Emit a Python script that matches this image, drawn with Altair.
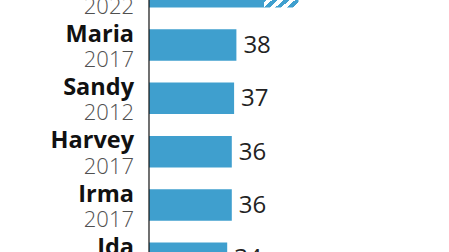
import altair as alt
import pandas as pd

names = ["Ian", "Maria", "Sandy", "Harvey", "Irma", "Ida"]
years = ["2022", "2017", "2012", "2017", "2017", "2021"]
low = [50, 38, 37, 36, 36, 34]
high = [65, 38, 37, 36, 36, 34]
labels = ["50-65", "38", "37", "36", "36", "34"]

df = pd.DataFrame({"name": names, "year": years, "low": low, "high": high, "label": labels})

BLUE = "#3f9fce"
FONT = "Open Sans"

yscale = alt.Scale(domain=names, range=[-35, 285], paddingInner=0.41, paddingOuter=0.205)
xscale = alt.Scale(domain=[0, 130], range=[149, 448])

Y = alt.Y("name:N", scale=yscale, axis=None)

base = alt.Chart(df)

solid = base.mark_bar(color=BLUE).encode(
    x=alt.X("low:Q", scale=xscale, axis=None), x2=alt.X2(datum=0), y=Y
)

stops = []
n = 6
for k in range(n):
    a = k / n
    m = (k + 0.5) / n
    b = (k + 1) / n
    stops += [
        alt.GradientStop(offset=a, color=BLUE),
        alt.GradientStop(offset=m, color=BLUE),
        alt.GradientStop(offset=m, color="white"),
        alt.GradientStop(offset=b, color="white"),
    ]
hatch_fill = alt.LinearGradient(gradient="linear", x1=0, y1=0, x2=1, y2=1, stops=stops)

hatched = base.transform_filter("datum.high > datum.low").mark_bar(color=hatch_fill).encode(
    x=alt.X("low:Q", scale=xscale, axis=None), x2="high:Q", y=Y
)

values = base.mark_text(align="left", baseline="middle", dx=7, dy=1, font=FONT, fontSize=24, color="#222").encode(
    x=alt.X("high:Q", scale=xscale, axis=None), y=Y, text="label:N"
)

name_txt = base.mark_text(align="right", baseline="alphabetic", dy=-3.5, font=FONT, fontSize=23.5,
                          fontWeight="bold", color="#111").encode(
    x=alt.value(134), y=Y, text="name:N"
)

year_txt = base.mark_text(align="right", baseline="alphabetic", dy=22, font=FONT, fontSize=22,
                          fontWeight=300, color="#505050").encode(
    x=alt.value(134), y=Y, text="year:N"
)

axis_line = alt.Chart(pd.DataFrame({"z": [0]})).mark_rule(color="#111", strokeWidth=1.2).encode(
    x=alt.value(149), y=alt.value(0), y2=alt.value(252)
)

chart = alt.layer(solid, hatched, axis_line, values, name_txt, year_txt).properties(
    width=449, height=252, padding=0, autosize=alt.AutoSizeParams(type="none")
).configure_view(stroke=None)

chart.save("out.html", embed_options={"renderer": "svg", "actions": False})
